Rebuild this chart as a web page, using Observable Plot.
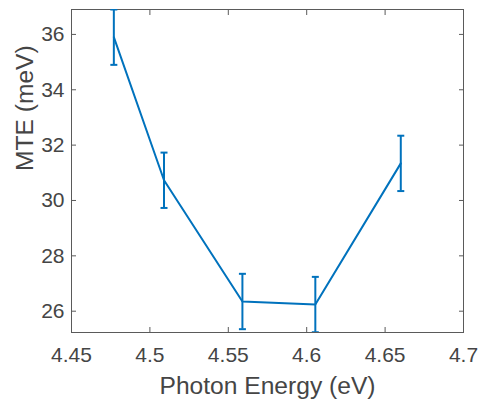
<!DOCTYPE html>
<html><head><meta charset="utf-8">
<script src="https://cdn.jsdelivr.net/npm/d3@7"></script>
<script src="https://cdn.jsdelivr.net/npm/@observablehq/plot@0.6"></script>
<style>body{margin:0;background:#fff}</style></head>
<body><div id="chart"></div>
<script>
const energy = [4.477, 4.509, 4.559, 4.6055, 4.660];
const mte = [35.9, 30.73, 26.35, 26.24, 31.34];
const mteErr = [1.0, 1.0, 1.0, 1.0, 1.0];
const xTicks = [4.45, 4.5, 4.55, 4.6, 4.65, 4.7];
const yTicks = [26, 28, 30, 32, 34, 36];
const xDomain = [4.45, 4.7];
const yDomain = [25.23, 36.9];

const data = energy.map((x, i) => ({x, y: mte[i], lo: mte[i] - mteErr[i], hi: mte[i] + mteErr[i]}));
const color = "#0072BD", axisColor = "#454545", frameColor = "#5a5a5a";
const cap = {draw(ctx, size) { const w = Math.sqrt(size / Math.PI); ctx.moveTo(-w, 0); ctx.lineTo(w, 0); }};
const noText = () => "";

const plot = Plot.plot({
  width: 479, height: 401,
  marginLeft: 71, marginRight: 16, marginTop: 9, marginBottom: 69,
  style: {fontFamily: "'Liberation Sans', Arial, sans-serif", color: axisColor, background: "#fff"},
  x: {domain: xDomain},
  y: {domain: yDomain},
  marks: [
    Plot.axisX(xTicks, {anchor: "bottom", tickSize: 0, tickPadding: 15, fontSize: 21, tickFormat: d => String(d), label: null}),
    Plot.axisY(yTicks, {anchor: "left", tickSize: 0, tickPadding: 7, fontSize: 21, tickFormat: d => String(d), label: null}),
    Plot.axisX(xTicks, {anchor: "bottom", tickSize: 5, dy: -5, tickFormat: noText, label: null, stroke: frameColor}),
    Plot.axisX(xTicks, {anchor: "top", tickSize: 5, dy: 5, tickFormat: noText, label: null, stroke: frameColor}),
    Plot.axisY(yTicks, {anchor: "left", tickSize: 5, dx: 5, tickFormat: noText, label: null, stroke: frameColor}),
    Plot.axisY(yTicks, {anchor: "right", tickSize: 5, dx: -5, tickFormat: noText, label: null, stroke: frameColor}),
    Plot.frame({stroke: frameColor}),
    Plot.text(["Photon Energy (eV)"], {frameAnchor: "bottom", lineAnchor: "bottom", dy: 61, fontSize: 24.6, fill: axisColor}),
    Plot.text(["MTE (meV)"], {frameAnchor: "left", lineAnchor: "bottom", rotate: -90, dx: -39, fontSize: 24.6, fill: axisColor}),
    Plot.line(data, {x: "x", y: "y", stroke: color, strokeWidth: 2, clip: true}),
    Plot.ruleX(data, {x: "x", y1: "lo", y2: "hi", stroke: color, strokeWidth: 2, clip: true}),
    Plot.dot(data, {x: "x", y: "hi", symbol: cap, r: 3.5, stroke: color, strokeWidth: 2, fill: "none", clip: true}),
    Plot.dot(data, {x: "x", y: "lo", symbol: cap, r: 3.5, stroke: color, strokeWidth: 2, fill: "none", clip: true})
  ]
});
document.getElementById("chart").append(plot);
</script>
</body></html>
